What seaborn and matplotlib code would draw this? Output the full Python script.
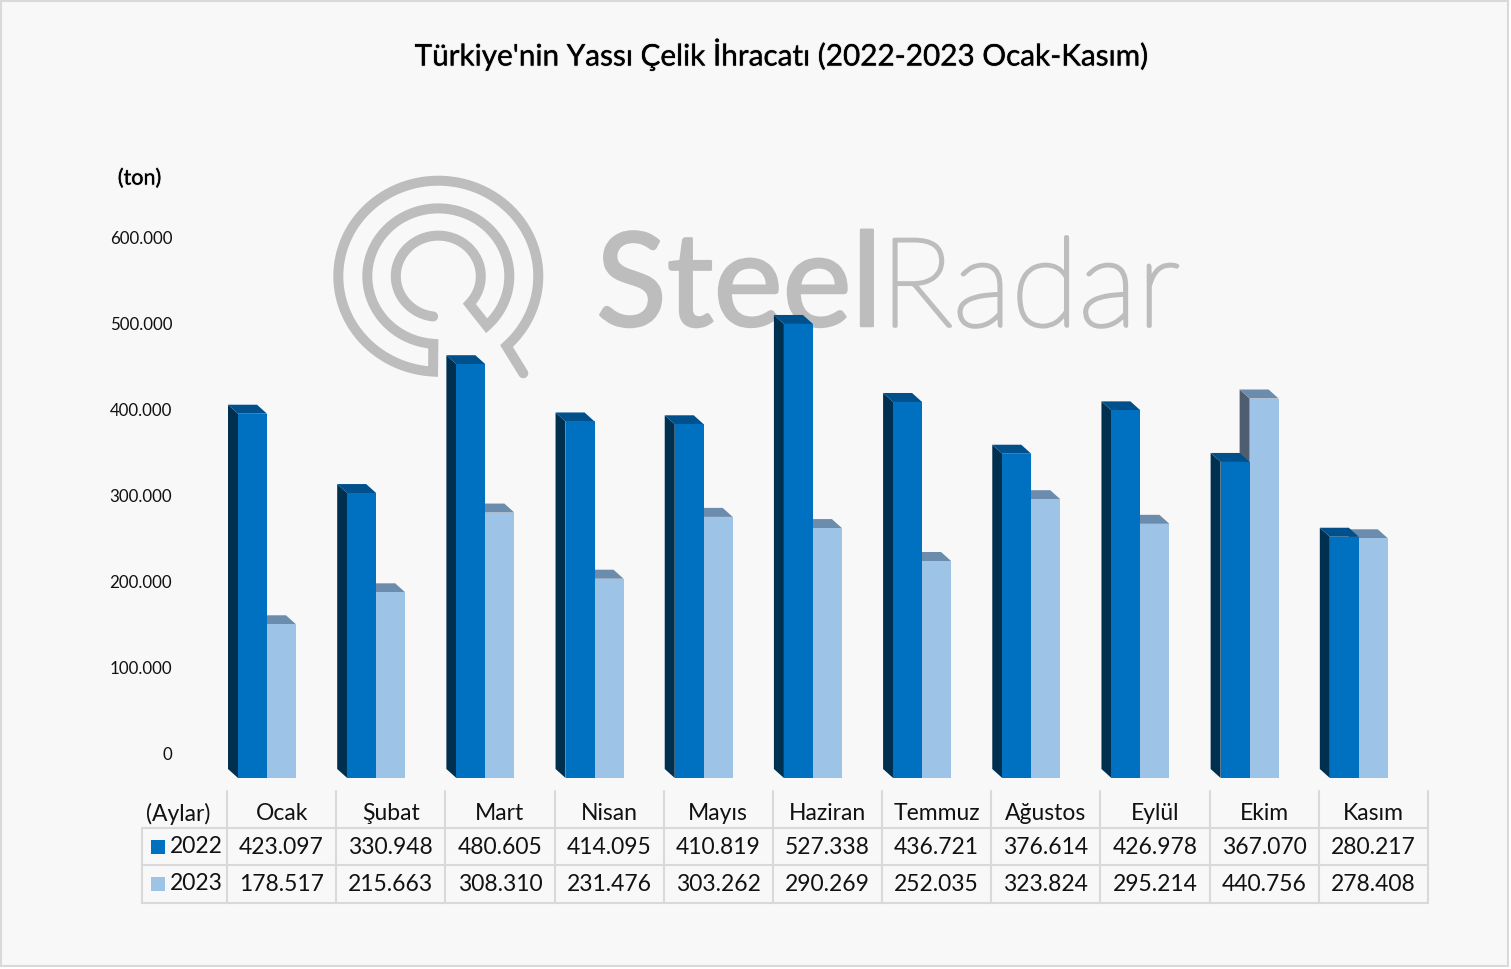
import numpy as np
import pandas as pd
import seaborn as sns
import matplotlib.pyplot as plt
import matplotlib.patheffects as pe
from matplotlib.patches import Polygon, Rectangle
from matplotlib.transforms import ScaledTranslation

# Chart data
months = ['Ocak', 'Şubat', 'Mart', 'Nisan', 'Mayıs', 'Haziran', 'Temmuz', 'Ağustos', 'Eylül', 'Ekim', 'Kasım']
exports_2022 = [423097, 330948, 480605, 414095, 410819, 527338, 436721, 376614, 426978, 367070, 280217]
exports_2023 = [178517, 215663, 308310, 231476, 303262, 290269, 252035, 323824, 295214, 440756, 278408]
years = ['2022', '2023']
y_ticks = [0, 100000, 200000, 300000, 400000, 500000, 600000]

# Colours: front, side and top of each 3D bar
front = {'2022': '#0070c0', '2023': '#9dc3e6'}
side = {'2022': '#00304f', '2023': '#4f5d71'}
top = {'2022': '#00508c', '2023': '#6c8cad'}

W, H = 1511, 969
GRAY = '#d9d9d9'
MARK = '#bdbdbd'


def dotted(v):
    return f'{v:,}'.replace(',', '.')


df = pd.DataFrame({
    'month': months * 2,
    'tons': exports_2022 + exports_2023,
    'year': ['2022'] * len(months) + ['2023'] * len(months),
})

sns.set_theme(style='white')
plt.rcParams['font.family'] = ['Lato', 'DejaVu Sans']

fig = plt.figure(figsize=(W / 100, H / 100), dpi=100, facecolor='white')

# Background layer in pixel coordinates: frame, watermark, table and titles
bg = fig.add_axes([0, 0, 1, 1], zorder=0)
bg.set_xlim(0, W)
bg.set_ylim(H, 0)
bg.axis('off')
bg.add_patch(Rectangle((1, 1), 1507, 965, facecolor='#f8f8f8', edgecolor=GRAY, lw=1.5))

# SteelRadar logo, the rings are slightly squashed in the reference
cx, cy, squash = 438.3, 276.2, 0.955
ang = lambda a, b: np.radians(np.linspace(a, b, 200))
t1, t2, t3 = ang(47, -267), ang(94, 407), ang(43, -263)
px = np.concatenate([[523.3], cx + 100 * np.cos(t1), cx + 71 * np.cos(t2), cx + 42.5 * np.cos(t3)])
py = np.concatenate([[373.3], cy + 100 * squash * np.sin(t1), cy + 71 * squash * np.sin(t2),
                     cy + 42.5 * squash * np.sin(t3)])
bg.plot(px, py, color=MARK, lw=7.2, solid_capstyle='round', solid_joinstyle='miter')

# Lato is thinner than the logo lettering, so thicken it with a stroke
bg.text(596, 326, 'Steel', fontsize=94, color=MARK, family='Lato', ha='left', va='baseline',
        path_effects=[pe.withStroke(linewidth=1.8, foreground=MARK)])
bg.text(880, 326, 'Radar', fontsize=89, color=MARK, family='Lato', weight='light', ha='left', va='baseline',
        path_effects=[pe.withStroke(linewidth=2.6, foreground=MARK)])

shadow = [pe.withStroke(linewidth=1.2, foreground='#c4c4c4', alpha=0.6), pe.Normal()]
bg.text(782, 54, "Türkiye'nin Yassı Çelik İhracatı (2022-2023 Ocak-Kasım)", fontsize=21.4,
        color='black', ha='center', va='center', path_effects=shadow)
bg.text(139.5, 178.5, '(ton)', fontsize=15.5, color='black', ha='center', va='center', path_effects=shadow)

# Data table below the bars
x0, cell = 227, 109.18
n = len(months)
for i in range(n + 1):
    bg.plot([x0 + i * cell] * 2, [791, 903], color=GRAY, lw=1.5)
bg.plot([142, 142], [828, 903], color=GRAY, lw=1.5)
for yy in [828, 865, 903]:
    bg.plot([142, x0 + n * cell], [yy, yy], color=GRAY, lw=1.5)

table_font = dict(fontsize=16.5, color='#111111', ha='center', va='center')
bg.text(178.5, 814, '(Aylar)', **table_font)
for year, yy, values in zip(years, [847.5, 884.5], [exports_2022, exports_2023]):
    bg.add_patch(Rectangle((151, yy - 8), 14, 14, facecolor=front[year], edgecolor='none'))
    bg.text(196, yy - 1, year, **table_font)
    for i, v in enumerate(values):
        bg.text(x0 + (i + 0.5) * cell, yy, dotted(v), **table_font)
for i, m in enumerate(months):
    bg.text(x0 + (i + 0.5) * cell, 814, m, **table_font)

# Bars: axes placed so that 0 sits at y=778 and 100.000 tons is 86.1 px
ax_left, ax_right = 267 - cell / 2, 267 + (n - 0.5) * cell
ax = fig.add_axes([ax_left / W, (H - 778) / H, (ax_right - ax_left) / W, 516.6 / H], zorder=1)
ax.patch.set_alpha(0)
sns.barplot(data=df, x='month', y='tons', hue='year', palette=front, hue_order=years,
            width=0.531, saturation=1, legend=False, linewidth=0, ax=ax)
ax.set_xlim(-0.5, n - 0.5)
ax.set_ylim(0, 600000)
ax.set_xlabel('')
ax.set_ylabel('')
ax.set_xticks([])
sns.despine(ax=ax, left=True, bottom=True)

ax.set_yticks(y_ticks)
ax.set_yticklabels([dotted(v) for v in y_ticks], fontsize=12.2, color='#111111')
ax.tick_params(axis='y', length=0, pad=29)
for label in ax.get_yticklabels():
    label.set_transform(label.get_transform() + ScaledTranslation(0, 0.24, fig.dpi_scale_trans))

# Fake the 3D look: every bar gets a side and a top face shifted back by the depth
dx = 10 / cell
dy = 9 / 86.1 * 100000
for year, container, z in zip(years, ax.containers, [3, 1]):
    for bar in container:
        xa, w, h = bar.get_x(), bar.get_width(), bar.get_height()
        bar.set_zorder(z + 1)
        ax.add_patch(Polygon([(xa, 0), (xa, h), (xa - dx, h + dy), (xa - dx, dy)],
                             facecolor=side[year], edgecolor='none', zorder=z, clip_on=False))
        ax.add_patch(Polygon([(xa, h), (xa + w, h), (xa + w - dx, h + dy), (xa - dx, h + dy)],
                             facecolor=top[year], edgecolor='none', zorder=z, clip_on=False))

fig.savefig('out.png', dpi=100, facecolor=fig.get_facecolor())
